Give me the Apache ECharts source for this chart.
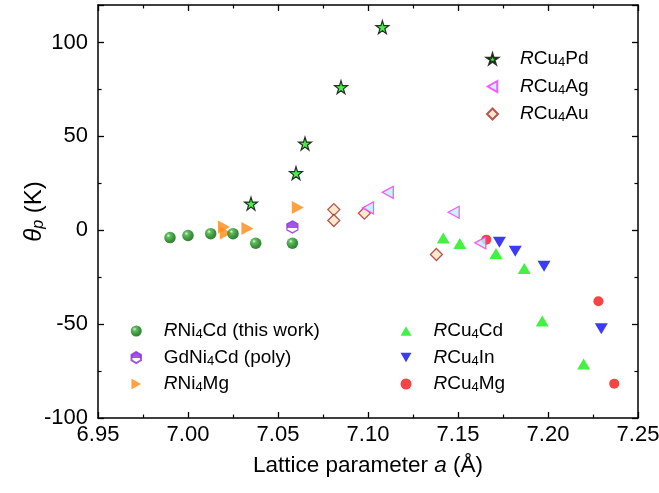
<!DOCTYPE html>
<html><head><meta charset="utf-8">
<script src="https://cdn.jsdelivr.net/npm/echarts@6/dist/echarts.min.js"></script>
<style>html,body{margin:0;padding:0;background:#fff}#c{width:659px;height:493px}</style>
</head><body><div id="c"></div>
<script>
// ---- data (lattice parameter a in Å, theta_p in K) ----
const pdA = [7.035, 7.060, 7.065, 7.085, 7.108];
const pdT = [14.2, 30.4, 46.2, 76.2, 108.2];
const agA = [7.100, 7.111, 7.1476, 7.1624];
const agT = [11.9, 20.2, 9.6, -6.7];
const auA = [7.081, 7.081, 7.098, 7.138];
const auT = [11.0, 5.2, 9.1, -12.9];
const ni4cdA = [6.990, 7.000, 7.0126, 7.025, 7.0376, 7.058];
const ni4cdT = [-3.9, -2.8, -1.8, -1.8, -6.9, -6.9];
const gdA = [7.058];
const gdT = [1.8];
const ni4mgA = [7.020, 7.021, 7.033, 7.061];
const ni4mgT = [1.8, -1.4, 0.9, 12.1];
const cdA = [7.1418, 7.151, 7.1711, 7.1868, 7.1968, 7.2198];
const cdT = [-4.1, -7.1, -12.4, -20.4, -48.3, -71.2];
const inA = [7.173, 7.1818, 7.1978, 7.2296];
const inT = [-6.4, -11.2, -19.2, -52.5];
const mgA = [7.1657, 7.228, 7.2368];
const mgT = [-5.0, -37.8, -81.7];

const xTicks = [6.95, 7.00, 7.05, 7.10, 7.15, 7.20, 7.25];
const yTicks = [-100, -50, 0, 50, 100];

const zip = (a, b) => a.map((v, i) => [v, b[i]]);

const labels = {
  'RCu4Pd': '{g|}{i|R}{n|Cu}{s|4}{n|Pd}',
  'RCu4Ag': '{g|}{i|R}{n|Cu}{s|4}{n|Ag}',
  'RCu4Au': '{g|}{i|R}{n|Cu}{s|4}{n|Au}',
  'RNi4Cd (this work)': '{g|}{i|R}{n|Ni}{s|4}{n|Cd (this work)}',
  'GdNi4Cd (poly)': '{g|}{n|GdNi}{s|4}{n|Cd (poly)}',
  'RNi4Mg': '{g|}{i|R}{n|Ni}{s|4}{n|Mg}',
  'RCu4Cd': '{g|}{i|R}{n|Cu}{s|4}{n|Cd}',
  'RCu4In': '{g|}{i|R}{n|Cu}{s|4}{n|In}',
  'RCu4Mg': '{g|}{i|R}{n|Cu}{s|4}{n|Mg}'
};
const FF = 'Liberation Sans, Arial, sans-serif';
const rich = {
  g: {width: 17},
  n: {fontSize: 19, fontFamily: FF, color: '#000', lineHeight: 20},
  i: {fontSize: 19, fontFamily: FF, color: '#000', fontStyle: 'italic', lineHeight: 20},
  s: {fontSize: 13, fontFamily: FF, color: '#000', lineHeight: 20, verticalAlign: 'bottom', padding: [13, 0, 0, 0]}
};
const legendBase = {
  orient: 'vertical', itemWidth: 11, itemHeight: 11, itemGap: 1.5,
  formatter: n => labels[n], textStyle: {rich: rich, fontSize: 19, fontFamily: FF}
};

const star = 'path://M50,0 L61,35 L98,35 L68,57 L79,91 L50,70 L21,91 L32,57 L2,35 L39,35 Z';
const hex = 'path://M50,0 L93,25 L93,75 L50,100 L7,75 L7,25 Z';
const triUp = 'path://M50,0 L100,87 L0,87 Z';
const triDown = 'path://M0,0 L100,0 L50,87 Z';
const triRight = 'path://M0,0 L87,50 L0,100 Z';
const triLeft = 'path://M87,0 L0,50 L87,100 Z';

const ball = {type: 'radial', x: 0.36, y: 0.33, r: 0.72, colorStops: [
  {offset: 0, color: '#e0f8e0'}, {offset: 0.22, color: '#38b038'}, {offset: 0.65, color: '#0b7a0b'}, {offset: 1, color: '#045a04'}]};
const halfHex = {type: 'linear', x: 0, y: 0, x2: 0, y2: 1, colorStops: [
  {offset: 0, color: '#8a2be2'}, {offset: 0.55, color: '#8a2be2'}, {offset: 0.55, color: '#ffffff'}, {offset: 1, color: '#ffffff'}]};

const axisCommon = {
  axisLine: {show: true, onZero: false, lineStyle: {color: '#000', width: 1.5}},
  axisTick: {show: true, inside: true, length: 6, lineStyle: {color: '#000', width: 1.3}},
  minorTick: {show: true, splitNumber: 2, length: 3.5, lineStyle: {color: '#000', width: 1.2}},
  splitLine: {show: false}
};

const option = {
  animation: false,
  backgroundColor: '#fff',
  grid: {left: 98, right: 21, top: 5, bottom: 75, containLabel: false, outerBoundsMode: 'none'},
  xAxis: [
    Object.assign({type: 'value', min: 6.95, max: 7.25, interval: 0.05, position: 'bottom',
      axisLabel: {color: '#000', fontSize: 22, fontFamily: FF, margin: 6,
        formatter: v => { const m = xTicks.find(t => Math.abs(t - v) < 1e-6); return m === undefined ? '' : m.toFixed(2); }},
      name: 'Lattice parameter {i|a} (Å)', nameLocation: 'middle', nameGap: 36,
      nameTextStyle: {color: '#000', fontSize: 22.5, fontFamily: FF,
        rich: {i: {fontStyle: 'italic', fontSize: 22.5, fontFamily: FF, color: '#000'}}}
    }, axisCommon),
    Object.assign({type: 'value', min: 6.95, max: 7.25, interval: 0.05, position: 'top',
      axisLabel: {show: false}}, axisCommon)
  ],
  yAxis: [
    Object.assign({type: 'value', min: -100, max: 120, interval: 50, position: 'left',
      axisLabel: {color: '#000', fontSize: 22, fontFamily: FF, margin: 10,
        formatter: v => yTicks.includes(v) ? String(v) : ''},
      name: '{t|θ}{p|p} (K)', nameLocation: 'middle', nameGap: 51, nameRotate: 90, nameMoveOverlap: false,
      nameTextStyle: {color: '#000', fontSize: 24, fontFamily: FF,
        rich: {t: {fontStyle: 'italic', fontSize: 24, fontFamily: FF, color: '#000', lineHeight: 26},
               p: {fontStyle: 'italic', fontSize: 16, fontFamily: FF, color: '#000', lineHeight: 26, verticalAlign: 'bottom', padding: [13, 0, 0, 0]}}}
    }, axisCommon),
    Object.assign({type: 'value', min: -100, max: 120, interval: 50, position: 'right',
      axisLabel: {show: false}}, axisCommon)
  ],
  legend: [
    Object.assign({}, legendBase, {left: 481, top: 38, data: ['RCu4Pd', 'RCu4Ag', 'RCu4Au']}),
    Object.assign({}, legendBase, {left: 125.5, top: 310, itemGap: 0.5, data: ['RNi4Cd (this work)', 'GdNi4Cd (poly)', 'RNi4Mg']}),
    Object.assign({}, legendBase, {left: 395.5, top: 310, itemGap: 0.5, data: ['RCu4Cd', 'RCu4In', 'RCu4Mg']})
  ],
  series: [
    {name: 'RCu4Cd', type: 'scatter', data: zip(cdA, cdT), symbol: triUp, symbolSize: [13, 11],
      itemStyle: {color: '#14ee14'}},
    {name: 'RCu4In', type: 'scatter', data: zip(inA, inT), symbol: triDown, symbolSize: [13, 11],
      itemStyle: {color: '#0a0af5'}},
    {name: 'RCu4Mg', type: 'scatter', data: zip(mgA, mgT), symbol: 'circle', symbolSize: 10,
      itemStyle: {color: '#f51414'}},
    {name: 'RNi4Mg', type: 'scatter', data: zip(ni4mgA, ni4mgT), symbol: triRight, symbolSize: [12, 13],
      itemStyle: {color: '#ff8a14'}},
    {name: 'RNi4Cd (this work)', type: 'scatter', data: zip(ni4cdA, ni4cdT), symbol: 'circle', symbolSize: 11.5,
      itemStyle: {color: ball}},
    {name: 'GdNi4Cd (poly)', type: 'scatter', data: zip(gdA, gdT), symbol: hex, symbolSize: [11, 12],
      itemStyle: {color: halfHex, borderColor: '#8a2be2', borderWidth: 1.3}},
    {name: 'RCu4Au', type: 'scatter', data: zip(auA, auT), symbol: 'diamond', symbolSize: 12,
      itemStyle: {color: '#fbe2c0', borderColor: '#a3302a', borderWidth: 1.3}},
    {name: 'RCu4Ag', type: 'scatter', data: zip(agA, agT), symbol: triLeft, symbolSize: [11, 12],
      itemStyle: {color: '#b6f2f6', borderColor: '#ff30ff', borderWidth: 1.3}},
    {name: 'RCu4Pd', type: 'scatter', data: zip(pdA, pdT), symbol: star, symbolSize: 13,
      itemStyle: {color: '#1ee81e', borderColor: '#000', borderWidth: 1.2}}
  ]
};
const chart = echarts.init(document.getElementById('c'), null, {renderer: 'canvas'});
chart.setOption(option);
</script>
</body></html>
